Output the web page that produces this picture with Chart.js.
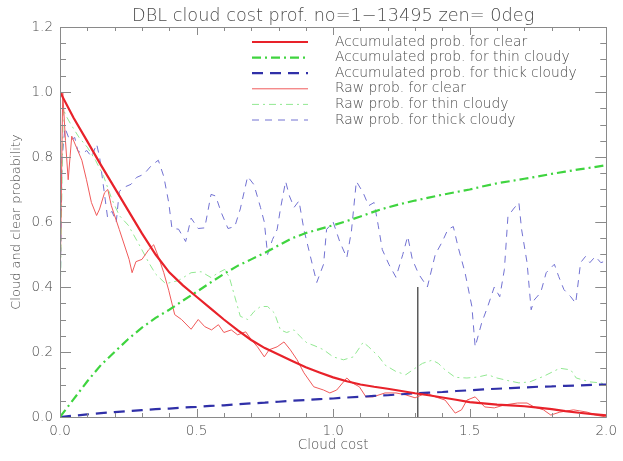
<!DOCTYPE html>
<html>
<head>
<meta charset="utf-8">
<script src="https://cdn.jsdelivr.net/npm/chart.js@4/dist/chart.umd.min.js"></script>
<style>
  html, body { margin: 0; padding: 0; background: #fff; }
  #wrap { width: 623px; height: 461px; }
</style>
</head>
<body>
<div id="wrap"><canvas id="c" width="623" height="461"></canvas></div>
<script>
// Cloud-cost grid for the accumulated curves
const accX = [0.00, 0.05, 0.10, 0.15, 0.20, 0.25, 0.30, 0.35, 0.40, 0.45,
              0.50, 0.55, 0.60, 0.65, 0.70, 0.75, 0.80, 0.85, 0.90, 0.95,
              1.00, 1.05, 1.10, 1.15, 1.20, 1.25, 1.30, 1.35, 1.40, 1.45,
              1.50, 1.55, 1.60, 1.65, 1.70, 1.75, 1.80, 1.85, 1.90, 1.95, 2.00];

const accClear = [1.000, 0.920, 0.848, 0.775, 0.705, 0.635, 0.565, 0.500, 0.445, 0.405,
                  0.370, 0.335, 0.300, 0.267, 0.237, 0.212, 0.192, 0.172, 0.153, 0.137,
                  0.122, 0.110, 0.100, 0.093, 0.087, 0.080, 0.073, 0.067, 0.060, 0.053,
                  0.046, 0.042, 0.038, 0.036, 0.033, 0.029, 0.024, 0.018, 0.013, 0.009, 0.005];

const accThin = [0.000, 0.055, 0.110, 0.160, 0.200, 0.240, 0.275, 0.305, 0.330, 0.358,
                 0.385, 0.413, 0.440, 0.465, 0.485, 0.505, 0.528, 0.550, 0.566, 0.578,
                 0.590, 0.603, 0.617, 0.632, 0.645, 0.656, 0.666, 0.675, 0.684, 0.692,
                 0.700, 0.710, 0.719, 0.726, 0.733, 0.740, 0.748, 0.755, 0.762, 0.768, 0.775];

const accThick = [0.000, 0.004, 0.008, 0.012, 0.015, 0.018, 0.021, 0.024, 0.026, 0.029,
                  0.031, 0.034, 0.036, 0.039, 0.042, 0.044, 0.047, 0.050, 0.052, 0.055,
                  0.057, 0.060, 0.062, 0.065, 0.067, 0.070, 0.073, 0.075, 0.077, 0.080,
                  0.082, 0.085, 0.087, 0.089, 0.091, 0.093, 0.094, 0.096, 0.097, 0.099, 0.100];

// Raw probabilities, [cloud cost, probability]
const rawClear = [
  [0.000,0.350],[0.005,0.700],[0.010,1.000],[0.020,0.850],[0.030,0.730],[0.043,0.864],
  [0.060,0.830],[0.080,0.790],[0.097,0.730],[0.115,0.660],[0.134,0.620],[0.145,0.640],
  [0.163,0.690],[0.175,0.700],[0.188,0.650],[0.217,0.577],[0.253,0.485],[0.264,0.444],
  [0.278,0.478],[0.300,0.485],[0.325,0.515],[0.343,0.530],[0.360,0.494],[0.380,0.444],
  [0.398,0.390],[0.420,0.315],[0.445,0.300],[0.480,0.270],[0.506,0.300],[0.530,0.278],
  [0.555,0.268],[0.580,0.284],[0.600,0.260],[0.627,0.268],[0.650,0.253],[0.680,0.262],
  [0.700,0.238],[0.723,0.216],[0.748,0.185],[0.766,0.207],[0.795,0.216],[0.820,0.231],
  [0.843,0.207],[0.868,0.176],[0.893,0.136],[0.929,0.093],[0.965,0.083],[0.988,0.074],
  [1.013,0.083],[1.050,0.120],[1.070,0.105],[1.096,0.093],[1.120,0.062],[1.146,0.062],
  [1.190,0.074],[1.230,0.074],[1.266,0.068],[1.300,0.059],[1.340,0.074],[1.374,0.062],
  [1.410,0.052],[1.447,0.012],[1.470,0.022],[1.490,0.052],[1.520,0.062],[1.555,0.031],
  [1.590,0.028],[1.627,0.037],[1.675,0.043],[1.710,0.043],[1.736,0.031],[1.770,0.022],
  [1.797,0.006],[1.830,0.015],[1.880,0.022],[1.930,0.015],[1.960,0.006],[2.000,0.000]
];

const rawThin = [
  [0.000,0.300],[0.005,0.600],[0.012,0.950],[0.020,0.930],[0.040,0.900],[0.070,0.860],
  [0.100,0.830],[0.130,0.790],[0.160,0.740],[0.190,0.670],[0.217,0.620],[0.250,0.590],
  [0.290,0.530],[0.325,0.475],[0.350,0.440],[0.387,0.410],[0.434,0.420],[0.480,0.444],
  [0.517,0.447],[0.553,0.429],[0.580,0.444],[0.603,0.454],[0.620,0.430],[0.640,0.370],
  [0.660,0.310],[0.687,0.300],[0.710,0.324],[0.734,0.340],[0.760,0.340],[0.785,0.320],
  [0.807,0.268],[0.830,0.260],[0.857,0.268],[0.880,0.247],[0.904,0.228],[0.930,0.220],
  [0.965,0.207],[1.000,0.185],[1.038,0.176],[1.074,0.185],[1.110,0.230],[1.130,0.216],
  [1.168,0.185],[1.190,0.160],[1.230,0.140],[1.266,0.130],[1.300,0.150],[1.327,0.165],
  [1.363,0.175],[1.385,0.165],[1.410,0.145],[1.447,0.122],[1.490,0.120],[1.530,0.123],
  [1.566,0.130],[1.600,0.120],[1.640,0.112],[1.680,0.105],[1.720,0.108],[1.770,0.125],
  [1.830,0.150],[1.870,0.145],[1.890,0.120],[1.940,0.108],[1.980,0.105],[2.000,0.100]
];

const rawThick = [
  [0.000,0.300],[0.007,0.790],[0.018,0.890],[0.036,0.850],[0.054,0.860],[0.065,0.820],
  [0.080,0.810],[0.098,0.820],[0.116,0.800],[0.134,0.840],[0.145,0.800],[0.163,0.685],
  [0.174,0.615],[0.190,0.633],[0.206,0.600],[0.217,0.694],[0.235,0.707],[0.260,0.716],
  [0.280,0.737],[0.307,0.747],[0.336,0.775],[0.360,0.790],[0.380,0.740],[0.398,0.660],
  [0.410,0.580],[0.434,0.578],[0.460,0.540],[0.480,0.612],[0.506,0.580],[0.530,0.582],
  [0.553,0.685],[0.570,0.680],[0.590,0.630],[0.615,0.580],[0.640,0.586],[0.660,0.640],
  [0.687,0.740],[0.710,0.715],[0.734,0.645],[0.748,0.600],[0.760,0.500],[0.778,0.546],
  [0.795,0.577],[0.807,0.640],[0.826,0.725],[0.840,0.680],[0.857,0.645],[0.875,0.665],
  [0.893,0.577],[0.915,0.500],[0.940,0.414],[0.965,0.470],[0.976,0.577],[1.000,0.600],
  [1.024,0.540],[1.050,0.490],[1.067,0.572],[1.085,0.725],[1.110,0.690],[1.130,0.650],
  [1.150,0.660],[1.165,0.590],[1.180,0.515],[1.204,0.470],[1.230,0.430],[1.255,0.500],
  [1.273,0.556],[1.290,0.485],[1.313,0.440],[1.345,0.400],[1.374,0.500],[1.400,0.540],
  [1.420,0.577],[1.440,0.586],[1.457,0.525],[1.483,0.444],[1.508,0.340],[1.520,0.216],
  [1.544,0.290],[1.566,0.340],[1.590,0.400],[1.610,0.370],[1.627,0.454],[1.640,0.617],
  [1.660,0.640],[1.680,0.660],[1.690,0.577],[1.710,0.475],[1.725,0.330],[1.736,0.360],
  [1.760,0.383],[1.780,0.444],[1.810,0.470],[1.826,0.432],[1.845,0.392],[1.870,0.370],
  [1.888,0.350],[1.906,0.475],[1.924,0.494],[1.940,0.475],[1.960,0.494],[1.980,0.475],
  [2.000,0.480]
];

// Threshold marker
const markerX = 1.31;
const markerTop = 0.4;

const chartTitle = 'DBL cloud cost prof. no=1\u221213495 zen= 0deg';

const legendLabels = [
  'Accumulated prob. for clear',
  'Accumulated prob. for thin cloudy',
  'Accumulated prob. for thick cloudy',
  'Raw prob. for clear',
  'Raw prob. for thin cloudy',
  'Raw prob. for thick cloudy'
];

const TEXT = '#4c4c4c';
const AXIS = '#8a8a8a';
const FONT = 'DejaVu Sans';
const WEIGHT = '200';

const toXY = (xs, ys) => xs.map((x, i) => ({ x: x, y: ys[i] }));
const pairs = arr => arr.map(p => ({ x: p[0], y: p[1] }));

const datasets = [
  { label: legendLabels[0], data: toXY(accX, accClear), borderColor: '#e8222a', borderWidth: 2.2, borderDash: [] },
  { label: legendLabels[1], data: toXY(accX, accThin), borderColor: '#3fd43f', borderWidth: 2.2, borderDash: [9, 4, 2, 4] },
  { label: legendLabels[2], data: toXY(accX, accThick), borderColor: '#3030a8', borderWidth: 2.2, borderDash: [11, 7] },
  { label: legendLabels[3], data: pairs(rawClear), borderColor: '#f05a5a', borderWidth: 1, borderDash: [] },
  { label: legendLabels[4], data: pairs(rawThin), borderColor: '#92e892', borderWidth: 1, borderDash: [7, 4, 2, 4] },
  { label: legendLabels[5], data: pairs(rawThick), borderColor: '#7272d2', borderWidth: 1, borderDash: [7, 6] },
  { label: 'marker', data: [{ x: markerX, y: 0 }, { x: markerX, y: markerTop }], borderColor: '#333', borderWidth: 1.2, borderDash: [] }
];
datasets.forEach(d => { d.pointRadius = 0; d.fill = false; d.tension = 0; });

// Frame with IDL-style inward ticks on all four sides, plus the title centred over the plot
const frameTicks = {
  id: 'frameTicks',
  afterDatasetsDraw(chart) {
    const { ctx, chartArea: a, scales: { x, y } } = chart;
    ctx.save();
    ctx.strokeStyle = AXIS;
    ctx.lineWidth = 1;
    ctx.beginPath();
    ctx.rect(Math.round(a.left) + 0.5, Math.round(a.top) + 0.5, Math.round(a.right - a.left), Math.round(a.bottom - a.top));
    ctx.stroke();
    ctx.beginPath();
    for (let i = 0; i <= 20; i++) {
      const v = i * 0.1;
      const px = Math.round(x.getPixelForValue(v)) + 0.5;
      const len = (i % 5 === 0) ? 8 : 4;
      ctx.moveTo(px, a.bottom); ctx.lineTo(px, a.bottom - len);
      ctx.moveTo(px, a.top); ctx.lineTo(px, a.top + len);
    }
    for (let i = 0; i <= 24; i++) {
      const v = i * 0.05;
      const py = Math.round(y.getPixelForValue(v)) + 0.5;
      const len = (i % 4 === 0) ? 11 : 6;
      ctx.moveTo(a.left, py); ctx.lineTo(a.left + len, py);
      ctx.moveTo(a.right, py); ctx.lineTo(a.right - len, py);
    }
    ctx.stroke();

    ctx.fillStyle = TEXT;
    ctx.font = WEIGHT + ' 17.7px "' + FONT + '"';
    ctx.textAlign = 'center';
    ctx.textBaseline = 'middle';
    ctx.fillText(chartTitle, (a.left + a.right) / 2, 16);
    ctx.restore();
  }
};

// Legend drawn inside the plot area, sample line then label
const innerLegend = {
  id: 'innerLegend',
  afterDraw(chart) {
    const ctx = chart.ctx;
    ctx.save();
    ctx.font = WEIGHT + ' 13.8px "' + FONT + '"';
    ctx.textBaseline = 'middle';
    ctx.fillStyle = TEXT;
    legendLabels.forEach((lab, i) => {
      const ds = chart.data.datasets[i];
      const yy = 42 + i * 15.6;
      ctx.strokeStyle = ds.borderColor;
      ctx.lineWidth = ds.borderWidth;
      ctx.setLineDash(ds.borderDash || []);
      ctx.beginPath();
      ctx.moveTo(252, yy); ctx.lineTo(308, yy);
      ctx.stroke();
      ctx.setLineDash([]);
      ctx.fillText(lab, 335, yy);
    });
    ctx.restore();
  }
};

new Chart(document.getElementById('c'), {
  type: 'line',
  data: { datasets: datasets },
  options: {
    responsive: false,
    animation: false,
    events: [],
    layout: { padding: { left: 0, right: 10, top: 27, bottom: 0 } },
    plugins: {
      legend: { display: false },
      tooltip: { enabled: false },
      title: { display: false }
    },
    scales: {
      x: {
        type: 'linear', min: 0, max: 2,
        grid: { display: false, drawTicks: false },
        border: { display: false },
        ticks: { stepSize: 0.5, padding: 6, color: TEXT, font: { family: FONT, size: 13.5, weight: WEIGHT }, callback: v => v.toFixed(1), maxRotation: 0 },
        title: { display: true, text: 'Cloud cost', color: TEXT, font: { family: FONT, size: 13.5, weight: WEIGHT }, padding: { top: 0, bottom: 7 } },
        afterFit: s => { s.height = 44; }
      },
      y: {
        type: 'linear', min: 0, max: 1.2,
        grid: { display: false, drawTicks: false },
        border: { display: false },
        ticks: { stepSize: 0.2, padding: 7, color: TEXT, font: { family: FONT, size: 13.5, weight: WEIGHT }, callback: v => v.toFixed(1) },
        title: { display: true, text: 'Cloud and clear probability', color: TEXT, font: { family: FONT, size: 13, weight: WEIGHT }, padding: { top: 9, bottom: 0 } },
        afterFit: s => { s.width = 60; }
      }
    }
  },
  plugins: [frameTicks, innerLegend]
});
</script>
</body>
</html>
